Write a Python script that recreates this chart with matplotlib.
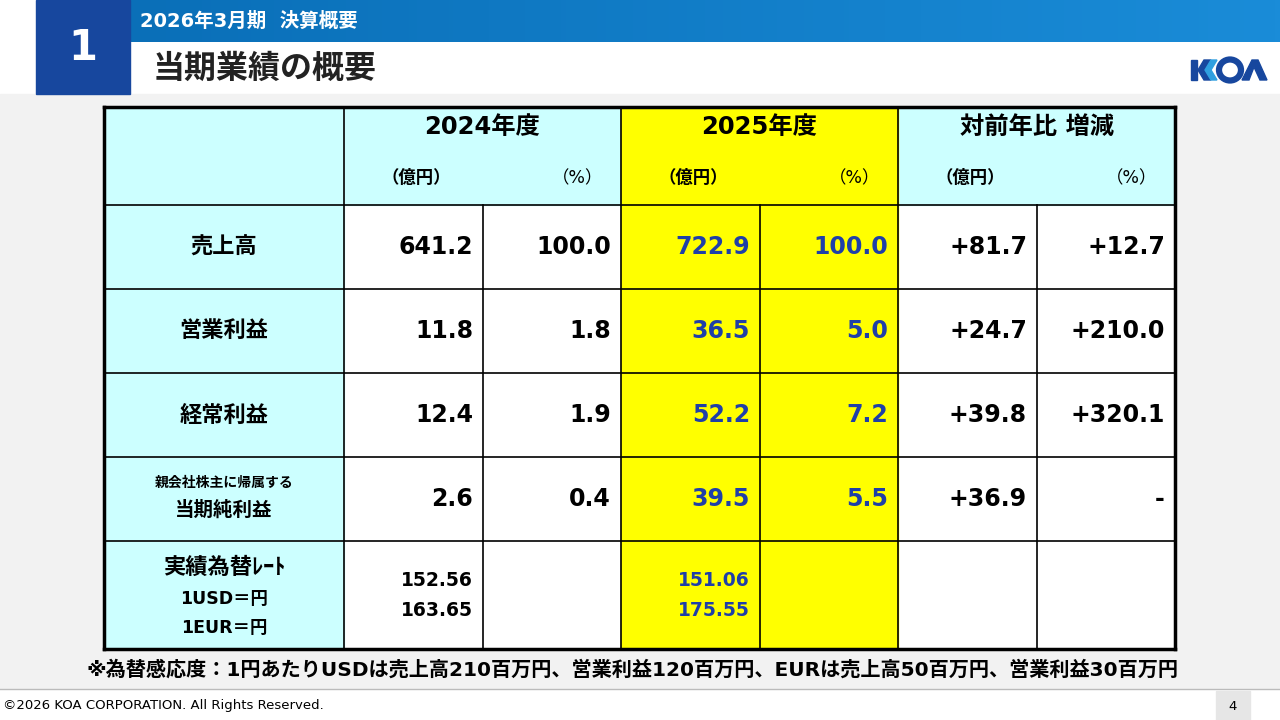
import matplotlib.pyplot as plt
import numpy as np
from matplotlib.colors import LinearSegmentedColormap
from matplotlib.patches import Rectangle, Polygon, Ellipse

plt.rcParams["font.family"] = ["DejaVu Sans", "Noto Sans CJK JP"]

# data
years = ["2024年度", "2025年度", "対前年比 増減"]
row_labels = ["売上高", "営業利益", "経常利益"]
prev_oku = ["641.2", "11.8", "12.4", "2.6"]
prev_pct = ["100.0", "1.8", "1.9", "0.4"]
curr_oku = ["722.9", "36.5", "52.2", "39.5"]
curr_pct = ["100.0", "5.0", "7.2", "5.5"]
diff_oku = ["+81.7", "+24.7", "+39.8", "+36.9"]
diff_pct = ["+12.7", "+210.0", "+320.1", "-"]
fx_prev = ["152.56", "163.65"]
fx_curr = ["151.06", "175.55"]

CX = [104, 344, 483, 621, 760, 898, 1037, 1175]
RY = [107, 205, 289, 373, 457, 541, 649]
CYAN = "#CCFFFF"
YEL = "#FFFF00"
NAVY = "#1F3FA8"

fig = plt.figure(figsize=(12.8, 7.2), dpi=100)
ax = fig.add_axes([0, 0, 1, 1])
ax.set_xlim(0, 1280)
ax.set_ylim(720, 0)
ax.axis("off")

# page background
ax.add_patch(Rectangle((0, 94), 1280, 594, color="#F2F2F2", zorder=0))
grad = np.linspace(0, 1, 256).reshape(1, -1)
ax.imshow(grad, extent=(130, 1280, 42, 0),
          cmap=LinearSegmentedColormap.from_list("b", ["#0A6FB8", "#1A8CD8"]), aspect="auto", zorder=1)
ax.add_patch(Rectangle((36, 0), 94, 94, color="#17479E", zorder=2))
ax.text(83, 48, "1", color="white", fontsize=30, fontweight="bold", ha="center", va="center", zorder=3)
ax.text(140, 21, "2026年3月期  決算概要", color="white", fontsize=14, fontweight="bold", va="center", zorder=3)
ax.text(153, 69, "当期業績の概要", color="#222222", fontsize=23, fontweight="bold", va="center", zorder=3)

# KOA logo
ax.add_patch(Polygon([(1191, 60), (1197, 60), (1197, 80), (1191, 80)], color="#17479E", zorder=3))
ax.add_patch(Polygon([(1211, 60), (1204, 60), (1198, 70), (1204, 80), (1211, 80), (1205, 70)], color="#17479E", zorder=3))
ax.add_patch(Polygon([(1217, 60), (1211, 60), (1205, 70), (1211, 80), (1217, 80), (1211, 70)], color="#2FA0E0", zorder=3))
ax.add_patch(Ellipse((1230, 70), 22, 21, facecolor="none", edgecolor="#17479E", lw=4.5, zorder=3))
ax.add_patch(Polygon([(1242, 80), (1252, 60), (1258, 60), (1267, 80), (1260, 80), (1254, 67), (1249, 80)],
                     color="#17479E", zorder=3))

# table backgrounds
ax.add_patch(Rectangle((CX[0], RY[0]), CX[7] - CX[0], RY[-1] - RY[0], color="white", zorder=1))
ax.add_patch(Rectangle((CX[0], RY[0]), CX[7] - CX[0], RY[1] - RY[0], color=CYAN, zorder=1))
ax.add_patch(Rectangle((CX[0], RY[0]), CX[1] - CX[0], RY[-1] - RY[0], color=CYAN, zorder=1))
ax.add_patch(Rectangle((CX[3], RY[0]), CX[5] - CX[3], RY[-1] - RY[0], color=YEL, zorder=1))

# grid lines
for i, x in enumerate(CX):
    lw = 2.5 if i in (0, 7) else 1.2
    y0 = RY[0] if i in (0, 1, 3, 5, 7) else RY[1]
    ax.plot([x, x], [y0, RY[-1]], color="black", lw=lw, zorder=4)
for i, y in enumerate(RY):
    lw = 2.5 if i in (0, len(RY) - 1) else 1.2
    ax.plot([CX[0], CX[7]], [y, y], color="black", lw=lw, zorder=4)

# header
for k, label in enumerate(years):
    xl, xr = CX[1 + 2 * k], CX[3 + 2 * k]
    ax.text((xl + xr) / 2, 127, label, fontsize=17.5, fontweight="bold", ha="center", va="center", zorder=5)
    ax.text(xl + 72, 178, "（億円）", fontsize=12.5, fontweight="bold", ha="center", va="center", zorder=5)
    ax.text(xr - 18, 178, "（%）", fontsize=12.5, ha="right", va="center", zorder=5)

# body
for r in range(4):
    yc = (RY[1 + r] + RY[2 + r]) / 2
    if r < 3:
        ax.text((CX[0] + CX[1]) / 2, yc, row_labels[r], fontsize=16, fontweight="bold",
                ha="center", va="center", zorder=5)
    else:
        ax.text((CX[0] + CX[1]) / 2, yc - 16, "親会社株主に帰属する", fontsize=10, fontweight="bold",
                ha="center", va="center", zorder=5)
        ax.text((CX[0] + CX[1]) / 2, yc + 11, "当期純利益", fontsize=14, fontweight="bold",
                ha="center", va="center", zorder=5)
    vals = [prev_oku[r], prev_pct[r], curr_oku[r], curr_pct[r], diff_oku[r], diff_pct[r]]
    for c, v in enumerate(vals):
        col = NAVY if c in (2, 3) else "black"
        ax.text(CX[2 + c] - 10, yc, v, fontsize=17, fontweight="bold", color=col,
                ha="right", va="center", zorder=5)

# fx row
yc = (RY[5] + RY[6]) / 2
ax.text((CX[0] + CX[1]) / 2, yc - 28, "実績為替ﾚｰﾄ", fontsize=16, fontweight="bold", ha="center", va="center", zorder=5)
ax.text((CX[0] + CX[1]) / 2, yc + 4, "1USD＝円", fontsize=12.5, fontweight="bold", ha="center", va="center", zorder=5)
ax.text((CX[0] + CX[1]) / 2, yc + 33, "1EUR＝円", fontsize=12.5, fontweight="bold", ha="center", va="center", zorder=5)
for j in range(2):
    ax.text(CX[2] - 10, yc - 15 + 30 * j, fx_prev[j], fontsize=13.5, fontweight="bold", ha="right", va="center", zorder=5)
    ax.text(CX[4] - 10, yc - 15 + 30 * j, fx_curr[j], fontsize=13.5, fontweight="bold", color=NAVY,
            ha="right", va="center", zorder=5)

ax.text(632, 670, "※為替感応度：1円あたりUSDは売上高210百万円、営業利益120百万円、EURは売上高50百万円、営業利益30百万円",
        fontsize=14.5, fontweight="bold", ha="center", va="center", zorder=5)

# footer
ax.plot([0, 1280], [689, 689], color="#BBBBBB", lw=1, zorder=2)
ax.text(3, 706, "©2026 KOA CORPORATION. All Rights Reserved.", fontsize=9.5, va="center", zorder=5)
ax.add_patch(Rectangle((1216, 691), 34, 29, color="#E6E6E6", zorder=2))
ax.text(1233, 706, "4", fontsize=9.5, ha="center", va="center", zorder=5)

fig.savefig("out.png", dpi=100)
